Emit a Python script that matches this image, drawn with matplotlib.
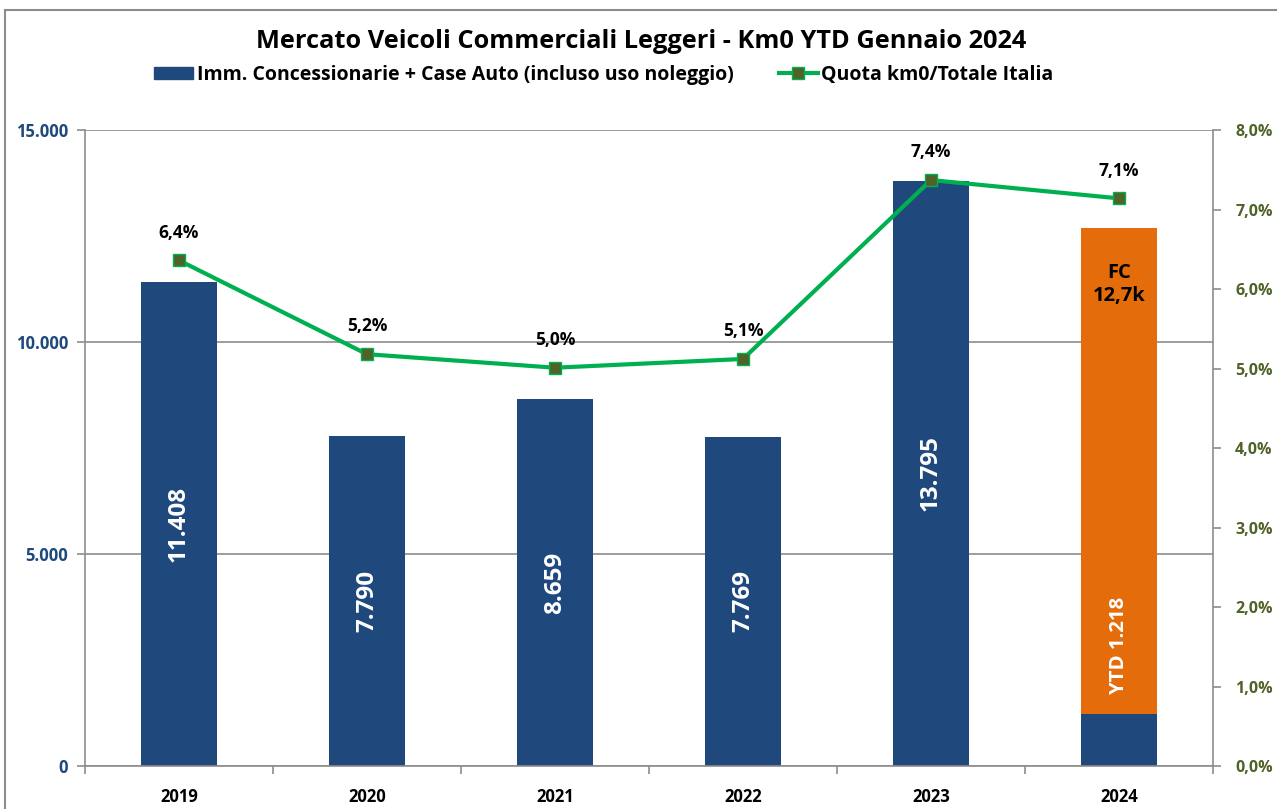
import matplotlib
matplotlib.use("Agg")
import matplotlib.pyplot as plt
import numpy as np
from matplotlib.lines import Line2D
from matplotlib.patches import Patch, Rectangle

years = ["2019", "2020", "2021", "2022", "2023", "2024"]
registrations = [11408, 7790, 8659, 7769, 13795, 1218]
forecast_extra = [0, 0, 0, 0, 0, 11482]   # 2024 FC 12,7k total
share_pct = [6.36, 5.18, 5.01, 5.12, 7.37, 7.14]
bar_labels = ["11.408", "7.790", "8.659", "7.769", "13.795", "YTD 1.218"]
share_labels = ["6,4%", "5,2%", "5,0%", "5,1%", "7,4%", "7,1%"]
left_ticks = [0, 5000, 10000, 15000]
left_tick_labels = ["0", "5.000", "10.000", "15.000"]
right_ticks = [0, 1, 2, 3, 4, 5, 6, 7, 8]
right_tick_labels = ["0,0%", "1,0%", "2,0%", "3,0%", "4,0%", "5,0%", "6,0%", "7,0%", "8,0%"]

FONT = ["Open Sans", "DejaVu Sans"]
plt.rcParams['font.family'] = FONT

BLUE = "#1F497D"
ORANGE = "#E46C0A"
GREEN = "#00B050"
OLIVE = "#4F6228"
GRAY = "#8C8C8C"

W, H = 1277, 809
fig = plt.figure(figsize=(W / 100, H / 100), dpi=100)
ax = fig.add_axes([85 / W, 1 - 766 / H, (1213 - 85) / W, (766 - 130) / H])
ax2 = ax.twinx()

x = np.arange(len(years))
ax.bar(x, registrations, width=0.4, color=BLUE, zorder=2)
ax.bar(x, forecast_extra, bottom=registrations, width=0.4, color=ORANGE, zorder=2)

ax.set_xlim(-0.5, len(years) - 0.5)
ax.set_ylim(0, 15000)
ax.set_yticks(left_ticks)
ax.set_yticklabels(left_tick_labels, color=BLUE, fontweight="bold", fontsize=12)
ax.yaxis.grid(True, color=GRAY, linewidth=1.2, zorder=0)
ax.set_axisbelow(True)
ax.set_xticks(x)
ax.set_xticklabels(years, fontweight="bold", fontsize=12, color="black")
ax.set_xticks(np.arange(-0.5, len(years), 1), minor=True)
ax.tick_params(axis="x", which="major", length=0, pad=16)
ax.tick_params(axis="x", which="minor", length=6, color=GRAY, width=1.2, direction="out")
ax.tick_params(axis="y", length=6, color=GRAY, width=1.2, direction="out", pad=6)

for s in ["top"]:
    ax.spines[s].set_visible(False)
    ax2.spines[s].set_visible(False)
for sp in [ax.spines["left"], ax.spines["bottom"], ax2.spines["right"]]:
    sp.set_color(GRAY)
    sp.set_linewidth(1.2)
ax.spines["right"].set_visible(False)
ax2.spines["left"].set_visible(False)
ax2.spines["bottom"].set_visible(False)

# bar value labels
for i in range(len(years) - 1):
    ax.text(x[i], registrations[i] / 2, bar_labels[i], rotation=90, ha="center", va="center",
            color="white", fontweight="bold", fontsize=17.5, zorder=4)
total24 = registrations[-1] + forecast_extra[-1]
ax.text(x[-1], 2850, bar_labels[-1], rotation=90, ha="center", va="center",
        color="white", fontweight="bold", fontsize=14.7, zorder=4)
ax.text(x[-1], total24 - 1350, "FC\n12,7k", ha="center", va="center",
        color="black", fontweight="bold", fontsize=14.5, linespacing=1.2, zorder=4)

# share line
ax2.plot(x, share_pct, color=GREEN, linewidth=3, marker="s", markersize=9,
         markerfacecolor=OLIVE, markeredgecolor=GREEN, markeredgewidth=1, zorder=5)
for i, lab in enumerate(share_labels):
    ax2.annotate(lab, (x[i], share_pct[i]), xytext=(0, 13.5), textcoords="offset points",
                 ha="center", va="bottom", fontweight="bold", fontsize=12.5, color="black")
ax2.set_ylim(0, 8)
ax2.set_yticks(right_ticks)
ax2.set_yticklabels(right_tick_labels, color=OLIVE, fontweight="bold", fontsize=11.5)
ax2.tick_params(axis="y", length=6, color=GRAY, width=1.2, direction="out", pad=10)

# title and legend
fig.text(641 / W, 1 - 42 / H, "Mercato Veicoli Commerciali Leggeri - Km0 YTD Gennaio 2024",
         ha="center", va="center", fontsize=18.3, fontweight="bold", color="black")
handles = [Patch(facecolor=BLUE, edgecolor=BLUE),
           Line2D([0], [0], color=GREEN, linewidth=3, marker="s", markersize=8,
                  markerfacecolor=OLIVE, markeredgecolor=GREEN)]
labels = ["Imm. Concessionarie + Case Auto (incluso uso noleggio)", "Quota km0/Totale Italia"]
fig.legend(handles, labels, loc="center", bbox_to_anchor=(604 / W, 1 - 75 / H), ncol=2,
           frameon=False, prop={"weight": "bold", "size": 14, "family": FONT},
           handlelength=2.0, handleheight=0.6, handletextpad=0.2, columnspacing=2.3)

# chart frame
fig.patches.append(Rectangle((5 / W, -0.05), 1.2, 1 - 10 / H + 0.05, transform=fig.transFigure,
                             fill=False, edgecolor=GRAY, linewidth=1.5))

fig.savefig("out.png", dpi=100)
